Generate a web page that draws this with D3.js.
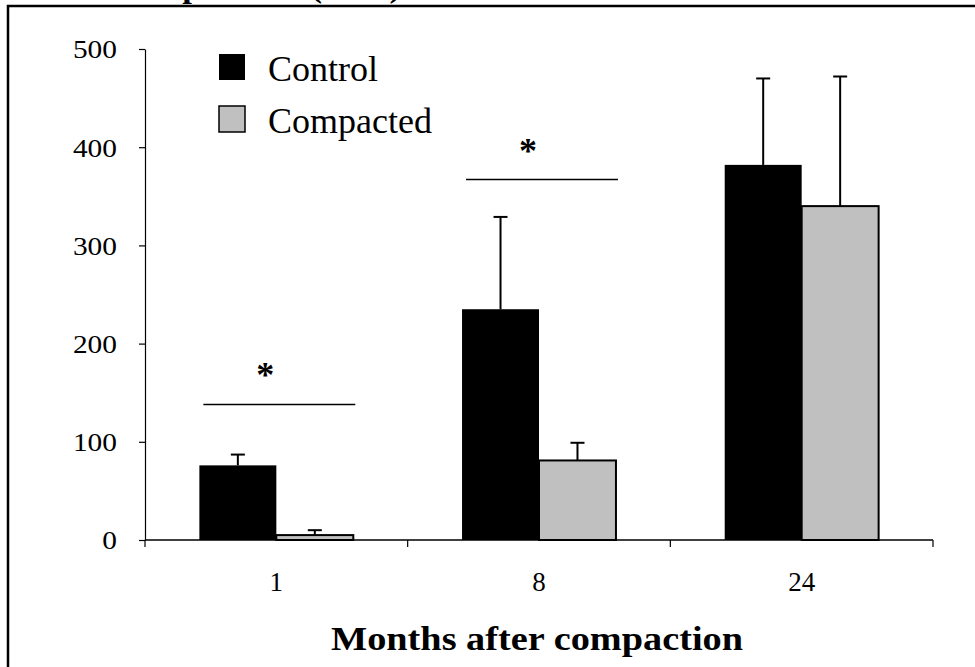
<!DOCTYPE html>
<html>
<head>
<meta charset="utf-8">
<script src="https://cdn.jsdelivr.net/npm/d3@7"></script>
<style>
  html, body { margin: 0; padding: 0; background: #fff; }
  svg { display: block; }
  text { font-family: "Liberation Serif", "Times New Roman", serif; fill: #000; }
</style>
</head>
<body>
<svg id="chart" width="975" height="667"></svg>
<script>
// ---- data ----
const categories = ["1", "8", "24"];
const seriesNames = ["Control", "Compacted"];
const controlValues = [76, 235, 382];
const compactedValues = [5, 81, 340];
const controlErrors = [11, 94, 88];
const compactedErrors = [5, 18, 132];
const yTicks = [0, 100, 200, 300, 400, 500];
const sigCategories = ["1", "8"];
const sigLevels = [138, 367];
const sigLabel = "*";
const xTitle = "Months after compaction";
const chartTitle = "Soil respiration (total)";

// ---- layout ----
const svg = d3.select("#chart");
const plotLeft = 145, plotRight = 933, plotTop = 49, plotBottom = 540;

const x = d3.scaleBand().domain(categories).range([plotLeft, plotRight])
  .paddingInner(0.414).paddingOuter(0.207);
const x1 = d3.scaleBand().domain(seriesNames).range([0, x.bandwidth()]);
const y = d3.scaleLinear().domain([0, 500]).range([plotBottom, plotTop]);

const colors = { "Control": "#000000", "Compacted": "#c0c0c0" };
const valuesBy = { "Control": controlValues, "Compacted": compactedValues };
const errorsBy = { "Control": controlErrors, "Compacted": compactedErrors };

// clipped title (mostly above the visible area, as in the original)
svg.append("text").attr("transform", "translate(74,-3) scale(1.12,1)")
  .attr("font-size", 31).attr("font-weight", "bold").text(chartTitle);

// frame
svg.append("rect").attr("x", 8).attr("y", 6).attr("width", 1000).attr("height", 700)
  .attr("fill", "#fff").attr("stroke", "#000").attr("stroke-width", 2.5);

// y axis
const yAxis = svg.append("g").attr("transform", `translate(${plotLeft},0)`)
  .call(d3.axisLeft(y).tickValues(yTicks).tickSize(6).tickSizeOuter(0).tickFormat(d3.format("d")));
yAxis.select(".domain").attr("stroke", "#000").attr("stroke-width", 1.2);
yAxis.selectAll(".tick line").attr("stroke", "#000").attr("stroke-width", 1.2);
yAxis.selectAll(".tick text").attr("font-size", 26).attr("font-family", "Liberation Serif")
  .attr("x", 0).attr("dy", "0.34em")
  .attr("transform", "translate(-28,0) scale(1.13,1)");

// bars
const groups = svg.append("g").selectAll("g").data(categories).join("g")
  .attr("transform", d => `translate(${x(d)},0)`);

seriesNames.forEach(s => {
  groups.append("rect")
    .attr("x", x1(s))
    .attr("width", x1.bandwidth())
    .attr("y", (d, i) => y(valuesBy[s][i]))
    .attr("height", (d, i) => y(0) - y(valuesBy[s][i]))
    .attr("fill", colors[s])
    .attr("stroke", "#000")
    .attr("stroke-width", s === "Compacted" ? 2 : 0);
});

// error bars (upper only)
seriesNames.forEach(s => {
  const cx = x1(s) + x1.bandwidth() / 2;
  groups.append("line")
    .attr("x1", cx).attr("x2", cx)
    .attr("y1", (d, i) => y(valuesBy[s][i]))
    .attr("y2", (d, i) => y(valuesBy[s][i] + errorsBy[s][i]))
    .attr("stroke", "#000").attr("stroke-width", 2);
  groups.append("line")
    .attr("x1", cx - 7).attr("x2", cx + 7)
    .attr("y1", (d, i) => y(valuesBy[s][i] + errorsBy[s][i]))
    .attr("y2", (d, i) => y(valuesBy[s][i] + errorsBy[s][i]))
    .attr("stroke", "#000").attr("stroke-width", 2);
});

// x axis
svg.append("line").attr("x1", plotLeft).attr("x2", plotRight).attr("y1", y(0)).attr("y2", y(0))
  .attr("stroke", "#000").attr("stroke-width", 1.5);
const boundaries = categories.map(c => x(c) - x.step() * x.paddingInner() / 2)
  .concat([plotRight]);
svg.append("g").selectAll("line").data(boundaries).join("line")
  .attr("x1", d => d).attr("x2", d => d).attr("y1", y(0)).attr("y2", y(0) + 7)
  .attr("stroke", "#000").attr("stroke-width", 1.2);
svg.append("g").selectAll("text").data(categories).join("text")
  .attr("x", d => x(d) + x.bandwidth() / 2).attr("y", 591)
  .attr("text-anchor", "middle").attr("font-size", 27).text(d => d);

// axis title
svg.append("text").attr("x", 537).attr("y", 650).attr("text-anchor", "middle")
  .attr("font-size", 33).attr("font-weight", "bold")
  .attr("textLength", 412).attr("lengthAdjust", "spacingAndGlyphs").text(xTitle);

// significance markers
sigCategories.forEach((c, i) => {
  const x0 = x(c) + 4, x2 = x(c) + x.bandwidth() + 2;
  svg.append("line").attr("x1", x0).attr("x2", x2)
    .attr("y1", y(sigLevels[i])).attr("y2", y(sigLevels[i]))
    .attr("stroke", "#000").attr("stroke-width", 1.5);
  svg.append("text").attr("x", x(c) + x.bandwidth() / 2 - 11).attr("y", y(sigLevels[i]) - 17)
    .attr("text-anchor", "middle").attr("font-size", 36).attr("font-weight", "bold").text(sigLabel);
});

// legend
const legend = svg.append("g").attr("transform", "translate(219,54)");
seriesNames.forEach((s, i) => {
  legend.append("rect").attr("x", 0).attr("y", i * 52).attr("width", 26).attr("height", 26)
    .attr("fill", colors[s]).attr("stroke", "#000").attr("stroke-width", s === "Compacted" ? 1.5 : 0);
  legend.append("text").attr("x", 49).attr("y", i * 52 + 27).attr("font-size", 36).text(s);
});
</script>
</body>
</html>
